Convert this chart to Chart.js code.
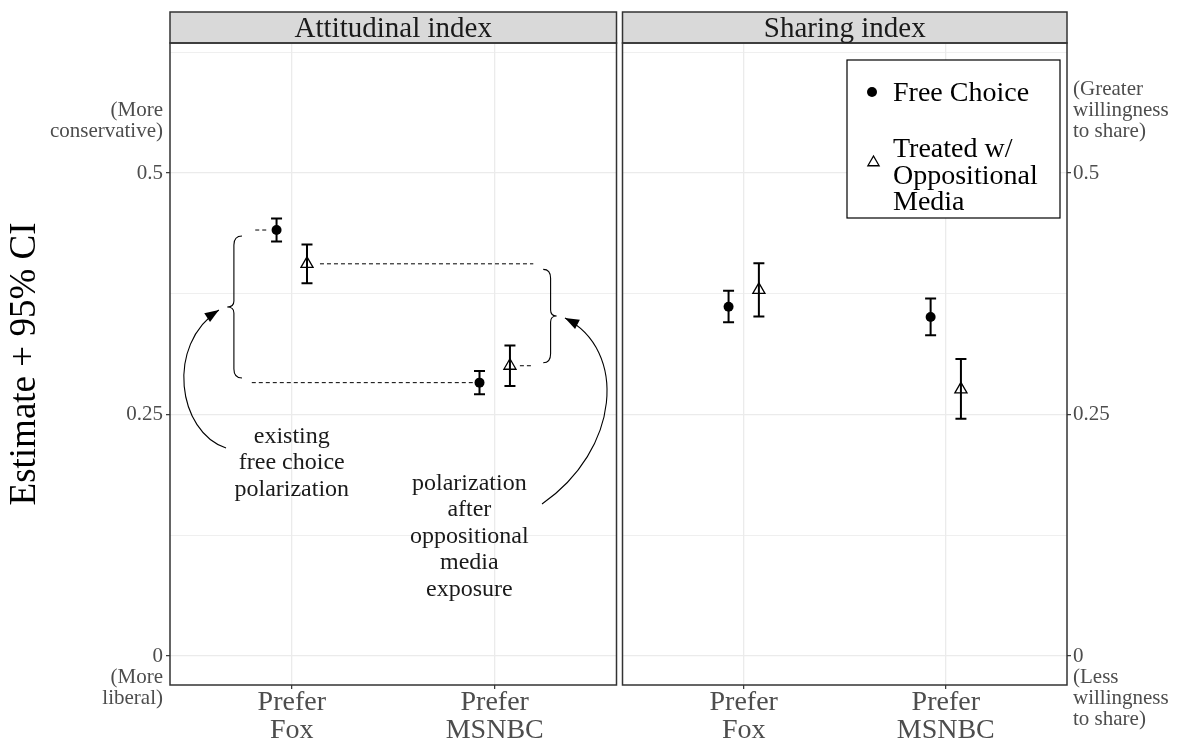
<!DOCTYPE html>
<html>
<head>
<meta charset="utf-8">
<script src="https://cdn.jsdelivr.net/npm/chart.js@4.4.1/dist/chart.umd.min.js"></script>
<style>
  html, body { margin: 0; padding: 0; background: #fff; }
  #wrap { position: relative; width: 1178px; height: 740px; }
  canvas { position: absolute; top: 0; }
</style>
</head>
<body>
<div id="wrap">
  <canvas id="attitudeChart" width="620" height="740" style="left:0"></canvas>
  <canvas id="sharingChart" width="558" height="740" style="left:620px"></canvas>
</div>
<script>
// categories and series
const categories = [["Prefer", "Fox"], ["Prefer", "MSNBC"]];
const legendFree = ["Free Choice"];
const legendTreated = ["Treated w/", "Oppositional", "Media"];

// Attitudinal index: estimate, lower and upper 95% CI
const attFree = [0.441, 0.283];
const attFreeLow = [0.429, 0.271];
const attFreeHigh = [0.453, 0.295];
const attTreated = [0.406, 0.3005];
const attTreatedLow = [0.386, 0.2795];
const attTreatedHigh = [0.426, 0.3215];

// Sharing index
const shareFree = [0.3615, 0.351];
const shareFreeLow = [0.3455, 0.332];
const shareFreeHigh = [0.378, 0.370];
const shareTreated = [0.379, 0.276];
const shareTreatedLow = [0.3515, 0.2455];
const shareTreatedHigh = [0.4065, 0.3075];

// y ticks
const yTicks = [0, 0.25, 0.5];
const yTickText = ["0", "0.25", "0.5"];
const yMinor = [0.125, 0.375, 0.625];
const attLowNote = ["(More", "liberal)"];
const attHighNote = ["(More", "conservative)"];
const shareLowNote = ["(Less", "willingness", "to share)"];
const shareHighNote = ["(Greater", "willingness", "to share)"];

const SERIF = '"Liberation Serif", "Times New Roman", serif';
const DODGE = 0.075;

// annotations on the attitudinal panel, in data units
const attNotes = {
  dashed: [
    { x0: 0.82, x1: 0.88, y: attFree[0] },
    { x0: 1.139, x1: 2.19, y: attTreated[0] },
    { x0: 0.803, x1: 1.903, y: attFree[1] },
    { x0: 2.124, x1: 2.19, y: attTreated[1] }
  ],
  braces: [
    { xEnd: 0.755, xTip: 0.682, yTop: 0.4348, yBottom: 0.2878 },
    { xEnd: 2.239, xTip: 2.305, yTop: 0.4003, yBottom: 0.3036 }
  ],
  arrows: [
    [[0.676, 0.2153], [0.439, 0.2319], [0.375, 0.3219], [0.641, 0.3582]],
    [[2.233, 0.1574], [2.617, 0.2133], [2.657, 0.3168], [2.346, 0.3499]]
  ],
  labels: [
    { x: 1.0, y: 0.1988, lines: ["existing", "free choice", "polarization"] },
    { x: 1.875, y: 0.1227, lines: ["polarization", "after", "oppositional", "media", "exposure"] }
  ]
};

function tickLabel(v, lowNote, highNote) {
  const i = yTicks.indexOf(v);
  if (i < 0) return "";
  const txt = yTickText[i];
  if (i === 0) return [...lowNote.map(() => ""), txt, ...lowNote];
  if (i === yTicks.length - 1) return [...highNote, "", txt, ...highNote.map(() => ""), ""];
  return txt;
}

function points(vals, off) {
  return vals.map((v, i) => ({ x: i + 1 + off, y: v }));
}

function drawMarker(ctx, style, x, y, r) {
  ctx.beginPath();
  if (style === "circle") {
    ctx.arc(x, y, r, 0, Math.PI * 2);
    ctx.fillStyle = "#000";
    ctx.fill();
  } else {
    for (let k = 0; k < 3; k++) {
      const a = k * 2 * Math.PI / 3;
      const px = x + Math.sin(a) * r, py = y - Math.cos(a) * r;
      k ? ctx.lineTo(px, py) : ctx.moveTo(px, py);
    }
    ctx.closePath();
    ctx.strokeStyle = "#000";
    ctx.lineWidth = 1.3;
    ctx.stroke();
  }
}

const errorBars = {
  id: "errorBars",
  beforeDatasetsDraw(chart) {
    const { ctx, scales: { x, y } } = chart;
    ctx.save();
    ctx.strokeStyle = "#000";
    ctx.lineWidth = 2;
    chart.data.datasets.forEach(ds => {
      ds.data.forEach((p, i) => {
        const px = x.getPixelForValue(p.x);
        const top = y.getPixelForValue(ds.high[i]);
        const bot = y.getPixelForValue(ds.low[i]);
        ctx.beginPath();
        ctx.moveTo(px, top); ctx.lineTo(px, bot);
        ctx.moveTo(px - 5.5, top); ctx.lineTo(px + 5.5, top);
        ctx.moveTo(px - 5.5, bot); ctx.lineTo(px + 5.5, bot);
        ctx.stroke();
      });
    });
    ctx.restore();
  }
};

const panelFrame = {
  id: "panelFrame",
  afterDraw(chart, args, opts) {
    const { ctx, chartArea: a } = chart;
    ctx.save();
    ctx.fillStyle = "#D9D9D9";
    ctx.fillRect(a.left, 12, a.right - a.left, a.top - 12);
    ctx.strokeStyle = "#333";
    ctx.lineWidth = 1.5;
    ctx.strokeRect(a.left, 12, a.right - a.left, a.top - 12);
    ctx.strokeRect(a.left, a.top, a.right - a.left, a.bottom - a.top);
    ctx.fillStyle = "#1A1A1A";
    ctx.font = "29px " + SERIF;
    ctx.textAlign = "center";
    ctx.textBaseline = "alphabetic";
    ctx.fillText(opts.title, (a.left + a.right) / 2, 37);
    ctx.restore();
  }
};

const annotations = {
  id: "annotations",
  afterDatasetsDraw(chart, args, opts) {
    const notes = opts.notes;
    if (!notes) return;
    const { ctx, scales: { x, y } } = chart;
    const X = v => x.getPixelForValue(v), Y = v => y.getPixelForValue(v);
    ctx.save();
    ctx.strokeStyle = "#000";

    ctx.lineWidth = 1;
    ctx.setLineDash([4, 3]);
    notes.dashed.forEach(d => {
      ctx.beginPath();
      ctx.moveTo(X(d.x0), Y(d.y));
      ctx.lineTo(X(d.x1), Y(d.y));
      ctx.stroke();
    });
    ctx.setLineDash([]);

    ctx.lineWidth = 1.1;
    notes.braces.forEach(b => {
      const xe = X(b.xEnd), xt = X(b.xTip), xs = xe + (xt - xe) * 0.55;
      const yt = Y(b.yTop), yb = Y(b.yBottom), yc = (yt + yb) / 2;
      const r = 9, r2 = 6;
      ctx.beginPath();
      ctx.moveTo(xe, yt);
      ctx.quadraticCurveTo(xs, yt, xs, yt + r);
      ctx.lineTo(xs, yc - r2);
      ctx.quadraticCurveTo(xs, yc, xt, yc);
      ctx.quadraticCurveTo(xs, yc, xs, yc + r2);
      ctx.lineTo(xs, yb - r);
      ctx.quadraticCurveTo(xs, yb, xe, yb);
      ctx.stroke();
    });

    notes.arrows.forEach(c => {
      const p = c.map(q => [X(q[0]), Y(q[1])]);
      ctx.beginPath();
      ctx.moveTo(p[0][0], p[0][1]);
      ctx.bezierCurveTo(p[1][0], p[1][1], p[2][0], p[2][1], p[3][0], p[3][1]);
      ctx.stroke();
      const ang = Math.atan2(p[3][1] - p[2][1], p[3][0] - p[2][0]);
      const len = 15, half = 0.36;
      ctx.beginPath();
      ctx.moveTo(p[3][0], p[3][1]);
      ctx.lineTo(p[3][0] - len * Math.cos(ang - half), p[3][1] - len * Math.sin(ang - half));
      ctx.lineTo(p[3][0] - len * Math.cos(ang + half), p[3][1] - len * Math.sin(ang + half));
      ctx.closePath();
      ctx.fillStyle = "#000";
      ctx.fill();
    });

    ctx.fillStyle = "#1A1A1A";
    ctx.font = "24px " + SERIF;
    ctx.textAlign = "center";
    ctx.textBaseline = "alphabetic";
    const lh = 26.5;
    notes.labels.forEach(l => {
      const cx = X(l.x), cy = Y(l.y), n = l.lines.length;
      l.lines.forEach((t, i) => ctx.fillText(t, cx, cy + (i - (n - 1) / 2) * lh + 5.5));
    });
    ctx.restore();
  }
};

const insideLegend = {
  id: "insideLegend",
  afterDraw(chart, args, opts) {
    if (!opts.show) return;
    const { ctx, chartArea: a } = chart;
    const left = a.right - 220, top = a.top + 17, w = 213, h = 158;
    ctx.save();
    ctx.fillStyle = "#fff";
    ctx.fillRect(left, top, w, h);
    ctx.strokeStyle = "#000";
    ctx.lineWidth = 1.2;
    ctx.strokeRect(left, top, w, h);
    drawMarker(ctx, "circle", left + 25, top + 32, 5);
    drawMarker(ctx, "triangle", left + 26.5, top + 102.5, 6.5);
    ctx.fillStyle = "#000";
    ctx.font = "28px " + SERIF;
    ctx.textAlign = "left";
    ctx.textBaseline = "alphabetic";
    legendFree.forEach((t, i) => ctx.fillText(t, left + 46, top + 41 + i * 27));
    legendTreated.forEach((t, i) => ctx.fillText(t, left + 46, top + 97 + i * 26.7));
    ctx.restore();
  }
};

function buildChart(id, cfg) {
  const allTicks = [...yTicks, ...yMinor].sort((a, b) => a - b);
  return new Chart(document.getElementById(id), {
    type: "scatter",
    data: {
      datasets: [
        {
          label: legendFree.join(" "),
          data: points(cfg.free, -DODGE),
          low: cfg.freeLow, high: cfg.freeHigh,
          pointStyle: "circle", pointRadius: 5,
          pointBackgroundColor: "#000", pointBorderColor: "#000", pointBorderWidth: 0
        },
        {
          label: legendTreated.join(" "),
          data: points(cfg.treated, DODGE),
          low: cfg.treatedLow, high: cfg.treatedHigh,
          pointStyle: "triangle", pointRadius: 7,
          pointBackgroundColor: "rgba(0,0,0,0)", pointBorderColor: "#000", pointBorderWidth: 1.3
        }
      ]
    },
    plugins: [errorBars, annotations, panelFrame, insideLegend],
    options: {
      responsive: false,
      animation: false,
      events: [],
      layout: { padding: cfg.padding, autoPadding: false },
      plugins: {
        legend: { display: false },
        tooltip: { enabled: false },
        panelFrame: { title: cfg.title },
        annotations: { notes: cfg.notes },
        insideLegend: { show: cfg.legend }
      },
      scales: {
        x: {
          type: "linear", min: 0.4, max: 2.6,
          afterBuildTicks: s => { s.ticks = categories.map((c, i) => ({ value: i + 1 })); },
          afterFit: s => { s.height = 55; s.paddingLeft = 0; s.paddingRight = 0; },
          ticks: {
            callback: v => categories[v - 1],
            color: "#4D4D4D",
            font: { family: SERIF, size: 28, lineHeight: "28px" },
            padding: 0, maxRotation: 0, autoSkip: false
          },
          grid: { color: "#EBEBEB", lineWidth: 1.3, tickColor: "#333", tickLength: 4, tickWidth: 1.2 },
          border: { display: false }
        },
        y: {
          type: "linear", min: -0.030, max: 0.6346,
          position: cfg.side,
          afterBuildTicks: s => { s.ticks = allTicks.map(v => ({ value: v })); },
          afterFit: s => { s.width = cfg.axisWidth; s.paddingTop = 0; s.paddingBottom = 0; },
          ticks: {
            callback: v => tickLabel(v, cfg.lowNote, cfg.highNote),
            color: "#4D4D4D",
            font: { family: SERIF, size: 21, lineHeight: "21px" },
            padding: cfg.side === "left" ? 3 : 2,
            autoSkip: false
          },
          grid: {
            color: "#EBEBEB",
            lineWidth: c => yTicks.includes(c.tick && c.tick.value) ? 1.3 : 0.8,
            tickColor: c => yTicks.includes(c.tick && c.tick.value) ? "#333" : "rgba(0,0,0,0)",
            tickLength: 4, tickWidth: 1.2
          },
          border: { display: false },
          title: {
            display: !!cfg.yTitle,
            text: cfg.yTitle || "",
            color: "#000",
            font: { family: SERIF, size: 37 },
            padding: { top: 3, bottom: 0 }
          }
        }
      }
    }
  });
}

buildChart("attitudeChart", {
  title: "Attitudinal index",
  free: attFree, freeLow: attFreeLow, freeHigh: attFreeHigh,
  treated: attTreated, treatedLow: attTreatedLow, treatedHigh: attTreatedHigh,
  side: "left", axisWidth: 170, lowNote: attLowNote, highNote: attHighNote,
  yTitle: "Estimate + 95% CI",
  padding: { top: 43, right: 3.5, left: 0, bottom: 0 },
  notes: attNotes, legend: false
});

buildChart("sharingChart", {
  title: "Sharing index",
  free: shareFree, freeLow: shareFreeLow, freeHigh: shareFreeHigh,
  treated: shareTreated, treatedLow: shareTreatedLow, treatedHigh: shareTreatedHigh,
  side: "right", axisWidth: 111, lowNote: shareLowNote, highNote: shareHighNote,
  yTitle: null,
  padding: { top: 43, right: 0, left: 2.5, bottom: 0 },
  notes: null, legend: true
});
</script>
</body>
</html>
